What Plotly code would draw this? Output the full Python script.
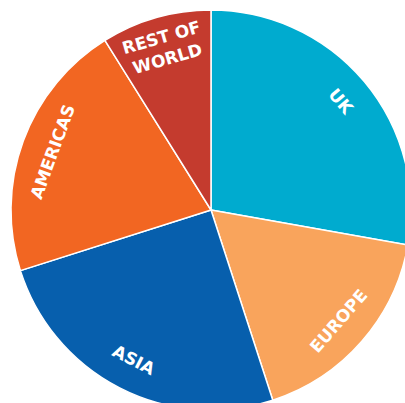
import math
import plotly.graph_objects as go

labels = ["UK", "EUROPE", "ASIA", "AMERICAS", "REST OF<br>WORLD"]
values = [27.8, 17.2, 25.1, 21.0, 8.9]
colors = ["#00ABCF", "#F9A45C", "#075FAD", "#F26622", "#C43B2E"]

W, H = 430, 430
cx, cy, r = 211, 210, 200
label_r = 0.845

fig = go.Figure(go.Pie(
    labels=labels,
    values=values,
    textinfo="none",
    sort=False,
    direction="clockwise",
    rotation=0,
    marker=dict(colors=colors, line=dict(color="white", width=1.5)),
    showlegend=False,
    hoverinfo="skip",
    domain=dict(x=[(cx - r) / W, (cx + r) / W], y=[1 - (cy + r) / H, 1 - (cy - r) / H]),
))

total = sum(values)
cum = 0.0
for lab, v in zip(labels, values):
    theta = 360.0 * (cum + v / 2) / total
    cum += v
    t = math.radians(theta)
    px = cx + label_r * r * math.sin(t)
    py = cy - label_r * r * math.cos(t)
    ang = theta if theta <= 90 else (theta - 180 if theta < 270 else theta - 360)
    fig.add_annotation(
        x=px / W, y=1 - py / H, xref="paper", yref="paper",
        text=lab, showarrow=False, textangle=ang,
        xanchor="center", yanchor="middle",
        font=dict(family="DejaVu Sans", size=17, color="white", weight=700),
    )

fig.update_layout(
    width=W, height=H,
    margin=dict(l=0, r=0, t=0, b=0),
    paper_bgcolor="white",
    showlegend=False,
)
fig.write_html(
    "out.html",
    config={"displayModeBar": False},
    post_script="document.body.style.margin='0';document.body.style.overflow='hidden';"
                "document.documentElement.style.overflow='hidden';",
)
